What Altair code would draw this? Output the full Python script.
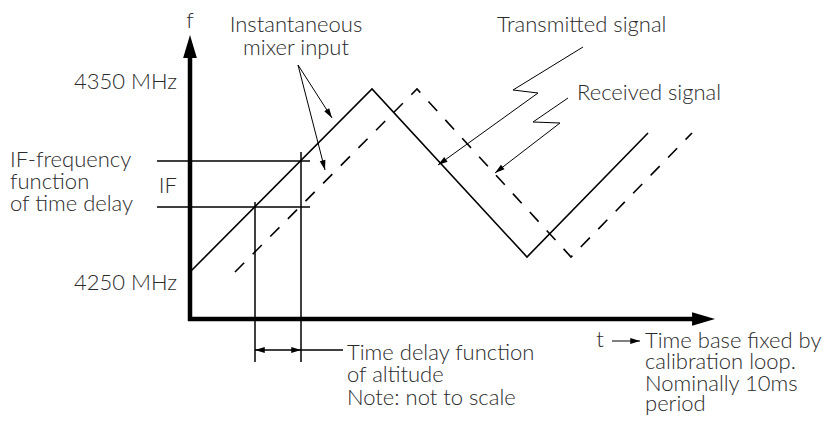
import math
import altair as alt
import pandas as pd

# Diagram frame: t = time, f = frequency (schematic units, origin at the axes corner)
# Signals
tx_t = [0, 182, 337, 458]
tx_f = [47, 230, 62, 186]
rx_t = [45, 227, 381, 502]
rx_f = [47, 230, 62, 186]

# IF reading lines and delay markers
if_levels = [158, 112]
if_t_range = [-33, 120]
delay_t = [65, 111]
delay_top_f = [117, 167]
delay_bottom_f = -43
delay_arrow_f = -31
delay_leader_end_t = 153

# Axes
axis_t_end = 525
axis_f_end = 284

# Leaders (polylines ending in an arrow)
leaders = {
    "mix1": ([108, 142], [254, 201]),
    "mix2": ([108, 135], [254, 149]),
    "tx": ([393, 323, 348, 248], [272, 229, 226, 154]),
    "rx": ([378, 343, 370, 305], [221, 197, 196, 146]),
    "tb": ([422, 450], [-22, -22]),
}

# Text labels: (text, t, f)
left_labels = [
    ("Transmitted signal", 307, 287),
    ("Received signal", 387, 219),
    ("IF-frequency", -180, 152),
    ("function", -180, 130),
    ("of time delay", -180, 108),
    ("Time delay function", 157, -41),
    ("of altitude", 157, -63),
    ("Note: not to scale", 157, -86),
    ("Time base fixed by", 455, -29),
    ("calibration loop.", 455, -50),
    ("Nominally 10ms", 455, -72),
    ("period", 455, -92),
]
right_labels = [
    ("4350 MHz", -13, 230),
    ("IF", -13, 126),
    ("4250 MHz", -13, 29),
]
center_labels = [
    ("f", 0, 291),
    ("Instantaneous", 106, 287),
    ("mixer input", 106, 264),
    ("t", 410, -28),
]

XDOM = [-182, 632]
YDOM = [-97, 311]
xs = alt.Scale(domain=XDOM, nice=False, zero=False)
ys = alt.Scale(domain=YDOM, nice=False, zero=False)


def X(field="t"):
    return alt.X(f"{field}:Q", scale=xs, axis=None)


def Y(field="f"):
    return alt.Y(f"{field}:Q", scale=ys, axis=None)


# ---- segments (rules)
seg_rows = []
for lv in if_levels:
    seg_rows.append(dict(t=if_t_range[0], f=lv, t2=if_t_range[1], f2=lv))
for dt, top in zip(delay_t, delay_top_f):
    seg_rows.append(dict(t=dt, f=top, t2=dt, f2=delay_bottom_f))
seg_rows.append(dict(t=delay_t[0], f=delay_arrow_f, t2=delay_leader_end_t, f2=delay_arrow_f))
segs = pd.DataFrame(seg_rows)

axis_rows = pd.DataFrame([
    dict(t=0, f=-2, t2=0, f2=axis_f_end - 15),
    dict(t=-2, f=0, t2=axis_t_end - 15, f2=0),
])

# ---- polylines
def poly(ts, fs, name):
    return pd.DataFrame(dict(t=ts, f=fs, k=list(range(len(ts))), id=name))

tx_df = poly(tx_t, tx_f, "tx")
rx_df = poly(rx_t, rx_f, "rx")
lead_df = pd.concat([poly(ts, fs, n) for n, (ts, fs) in leaders.items()], ignore_index=True)


def heading(t1, f1, t2, f2):
    return math.degrees(math.atan2(t2 - t1, f2 - f1)) % 360


# ---- arrowheads
small_heads = []
for n, (ts, fs) in leaders.items():
    small_heads.append(dict(t=ts[-1], f=fs[-1], angle=heading(ts[-2], fs[-2], ts[-1], fs[-1])))
small_heads.append(dict(t=delay_t[0], f=delay_arrow_f, angle=270.0))
small_heads.append(dict(t=delay_t[1], f=delay_arrow_f, angle=90.0))
small_df = pd.DataFrame(small_heads)

big_df = pd.DataFrame([
    dict(t=0, f=axis_f_end, angle=0.0),
    dict(t=axis_t_end, f=0, angle=90.0),
])

ARROW = "M0,0L0.3,1L-0.3,1Z"

layers = []
layers.append(alt.Chart(segs).mark_rule(color="black", strokeWidth=1.5).encode(
    x=X(), y=Y(), x2="t2:Q", y2="f2:Q"))
layers.append(alt.Chart(axis_rows).mark_rule(color="black", strokeWidth=4.5).encode(
    x=X(), y=Y(), x2="t2:Q", y2="f2:Q"))
layers.append(alt.Chart(tx_df).mark_line(color="black", strokeWidth=1.6).encode(
    x=X(), y=Y(), order="k:O", detail="id:N"))
layers.append(alt.Chart(rx_df).mark_line(color="black", strokeWidth=1.6, strokeDash=[13, 12]).encode(
    x=X(), y=Y(), order="k:O", detail="id:N"))
layers.append(alt.Chart(lead_df).mark_line(color="black", strokeWidth=1.0).encode(
    x=X(), y=Y(), order="k:O", detail="id:N"))
layers.append(alt.Chart(small_df).mark_point(shape=ARROW, filled=True, color="black", opacity=1, size=380).encode(
    x=X(), y=Y(), angle=alt.Angle("angle:Q", scale=None)))
layers.append(alt.Chart(big_df).mark_point(shape=ARROW, filled=True, color="black", opacity=1, size=2100).encode(
    x=X(), y=Y(), angle=alt.Angle("angle:Q", scale=None)))

TXT = dict(font="Lato", fontSize=22, fontWeight=300, color="#2a2a2a", baseline="alphabetic")
for rows, al in [(left_labels, "left"), (right_labels, "right"), (center_labels, "center")]:
    df = pd.DataFrame(rows, columns=["label", "t", "f"])
    layers.append(alt.Chart(df).mark_text(align=al, **TXT).encode(x=X(), y=Y(), text="label:N"))

chart = alt.layer(*layers).properties(
    width=814, height=408, padding=0, autosize=alt.AutoSizeParams(type="none")
).configure_view(stroke=None)

chart.save("out.html", embed_options={"renderer": "svg", "actions": False})
